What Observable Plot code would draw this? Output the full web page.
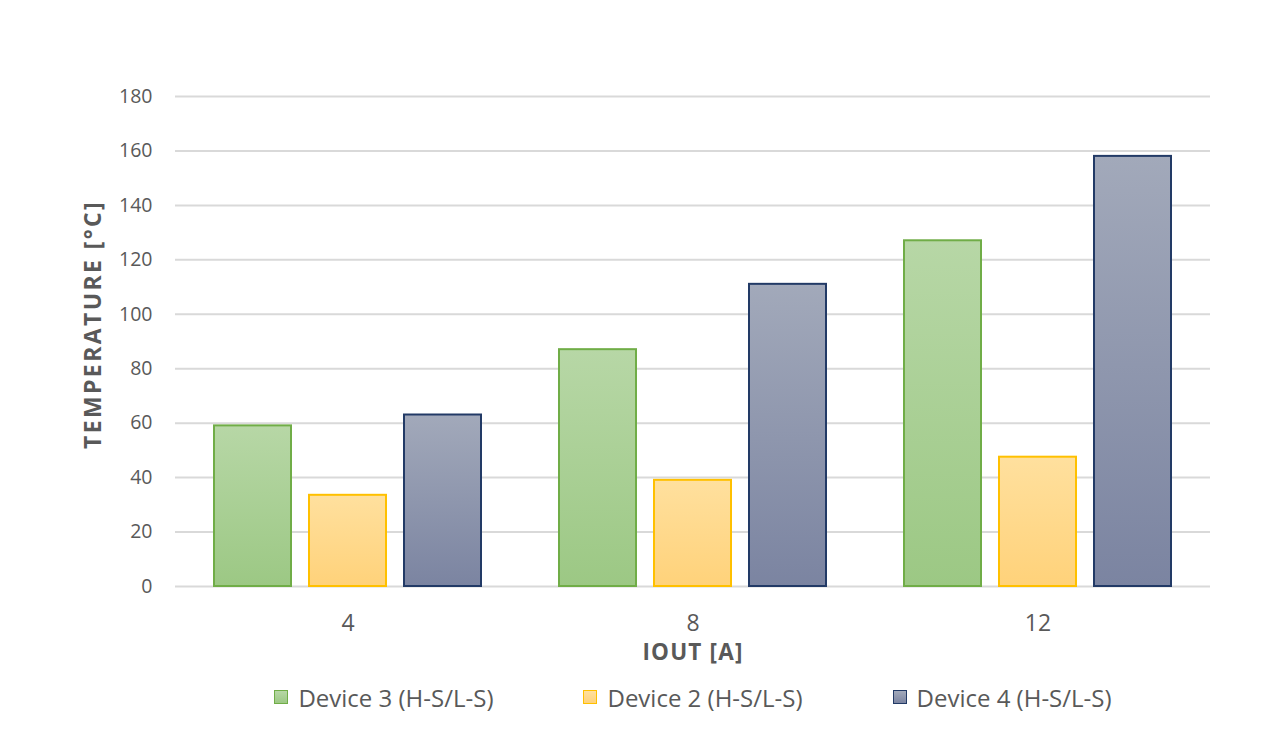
<!DOCTYPE html>
<html><head><meta charset="utf-8">
<script src="https://cdn.jsdelivr.net/npm/d3@7"></script>
<script src="https://cdn.jsdelivr.net/npm/@observablehq/plot@0.6"></script>
<style>
body{margin:0;background:#fff;font-family:"Open Sans",sans-serif;width:1280px;height:753px;overflow:hidden;}
#legend{display:flex;justify-content:center;align-items:center;padding-left:106px;box-sizing:border-box;width:1280px;margin-top:10px;height:30px;gap:90px;color:#595959;font-size:24px;}
.item{display:flex;align-items:center;gap:10px;white-space:nowrap;}
.sw{width:12px;height:12px;border:1.5px solid;}
</style></head><body>
<div id="chart"></div>
<div id="legend"></div>
<script>
const currents = ["4", "8", "12"];
const devices = ["Device 3 (H-S/L-S)", "Device 2 (H-S/L-S)", "Device 4 (H-S/L-S)"];
const device3 = [59, 87, 127];
const device2 = [33.5, 39, 47.5];
const device4 = [63, 111, 158];
const yTicks = [0, 20, 40, 60, 80, 100, 120, 140, 160, 180];
const xTitle = "IOUT [A]";
const yTitle = "TEMPERATURE [°C]";

const series = [device3, device2, device4];
const fillTop = ["#b7d7a6", "#ffe09e", "#a2a9ba"];
const fillBottom = ["#9cc884", "#ffd27a", "#7b84a1"];
const strokes = ["#70ad47", "#ffc000", "#223a66"];
const textColor = "#595959";

const rows = currents.flatMap((c, i) => devices.map((d, j) => ({current: c, device: d, value: series[j][i]})));

const bars = devices.map((d, j) => Plot.barY(rows.filter(r => r.device === d), {
  fx: "current", x: "device", y: "value",
  fill: `url(#grad${j})`, stroke: strokes[j], strokeWidth: 2
}));

const chart = Plot.plot({
  width: 1280,
  height: 672,
  marginTop: 96,
  marginBottom: 86,
  marginLeft: 175,
  marginRight: 70,
  style: {fontFamily: "Open Sans, sans-serif", fontSize: "19.5px", color: textColor, background: "#fff"},
  fx: {domain: currents, padding: 0, label: null},
  x: {domain: devices, paddingInner: 0.19, paddingOuter: 0.41, axis: null},
  y: {domain: [0, 180], label: null},
  marks: [
    Plot.gridY({ticks: yTicks, stroke: "#d9d9d9", strokeOpacity: 1, strokeWidth: 2}),
    Plot.axisY({ticks: yTicks, tickSize: 0, tickPadding: 23, label: null, fill: textColor, fontSize: 19.5}),
    Plot.axisFx({anchor: "bottom", tickSize: 0, tickPadding: 28, label: null, fill: textColor, fontSize: 23}),
    ...bars,
    Plot.text([{fx: currents[0], t: yTitle}], {fx: "fx", text: "t", frameAnchor: "left", textAnchor: "middle", lineAnchor: "middle", rotate: -90, dx: -82, dy: -17, fontWeight: "bold", fill: textColor, fontSize: 23}),
    Plot.text([{fx: currents[1], t: xTitle}], {fx: "fx", text: "t", frameAnchor: "bottom", textAnchor: "middle", lineAnchor: "middle", dy: 66, fontWeight: "bold", fill: textColor, fontSize: 22.5})
  ]
});

const svg = chart.tagName.toLowerCase() === "svg" ? chart : chart.querySelector("svg");
svg.querySelectorAll("text").forEach(t => {
  if (t.textContent === yTitle) t.style.letterSpacing = "2.4px";
  if (t.textContent === xTitle) t.style.letterSpacing = "1.2px";
});
const ns = "http://www.w3.org/2000/svg";
const defs = document.createElementNS(ns, "defs");
devices.forEach((d, j) => {
  const g = document.createElementNS(ns, "linearGradient");
  g.setAttribute("id", `grad${j}`);
  g.setAttribute("x1", "0"); g.setAttribute("y1", "0"); g.setAttribute("x2", "0"); g.setAttribute("y2", "1");
  [[0, fillTop[j]], [1, fillBottom[j]]].forEach(([o, c]) => {
    const s = document.createElementNS(ns, "stop");
    s.setAttribute("offset", o); s.setAttribute("stop-color", c);
    g.appendChild(s);
  });
  defs.appendChild(g);
});
svg.insertBefore(defs, svg.firstChild);
document.getElementById("chart").appendChild(chart);

const legend = document.getElementById("legend");
devices.forEach((d, j) => {
  const item = document.createElement("div");
  item.className = "item";
  const sw = document.createElement("span");
  sw.className = "sw";
  sw.style.background = `linear-gradient(${fillTop[j]}, ${fillBottom[j]})`;
  sw.style.borderColor = strokes[j];
  const t = document.createElement("span");
  t.textContent = d;
  item.appendChild(sw); item.appendChild(t);
  legend.appendChild(item);
});
</script>
</body></html>
